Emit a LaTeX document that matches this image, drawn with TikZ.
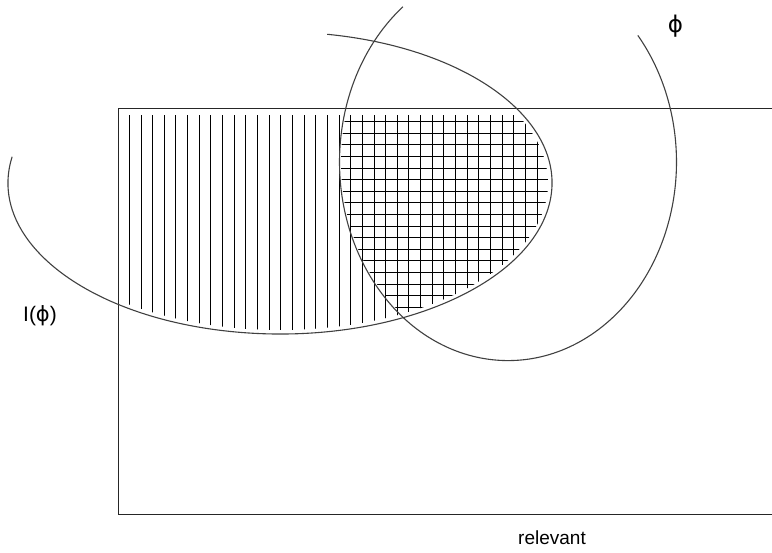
\documentclass[tikz,border=0pt]{standalone}
\usepackage{fontspec}
\setmainfont{Liberation Sans}
\newfontfamily\djv{DejaVu Sans}
\begin{document}
\begin{tikzpicture}[x=1pt,y=1pt,
  curve/.style={draw=black!75,line width=1.1pt},
  frame/.style={draw=black!85,line width=1pt},
  hatch/.style={draw=black,line width=0.9pt},
  lbl/.style={inner sep=0pt,font=\fontsize{21}{24}\selectfont}]
\useasboundingbox (0,0) rectangle (772,-553);
\coordinate (E) at (280,-183);
\coordinate (C) at (508,-162);
% vertical hatching: rectangle ∩ ellipse
\begin{scope}
  \clip (118,-116) rectangle (772,-515);
  \clip (E) ellipse[x radius=268pt, y radius=147pt];
  \foreach \k in {0,...,37} {
    \draw[hatch] (129.3+11.65*\k,-100) -- (129.3+11.65*\k,-400);
  }
  % horizontal hatching: also inside circle
  \clip (C) ellipse[x radius=167pt, y radius=197pt];
  \foreach \k in {0,...,17} {
    \draw[hatch] (300,-121.7-11.6*\k) -- (600,-121.7-11.6*\k);
  }
\end{scope}
% frame (open on the right)
\coordinate (R1) at (772,-109);
\coordinate (R2) at (118,-109);
\coordinate (R3) at (118,-515);
\coordinate (R4) at (772,-515);
\draw[frame] (R1) -- (R2) -- (R3) -- (R4);
% ellipse arc I(phi)
\draw[curve] ([shift={(170:272pt and 151pt)}]E) arc[start angle=170, end angle=440, x radius=272pt, y radius=151pt];
% ellipse arc phi
\draw[curve] ([shift={(128.6:168.5pt and 198.6pt)}]C) arc[start angle=128.6, end angle=399.6, x radius=168.5pt, y radius=198.6pt];
% labels
\node[lbl,font=\fontsize{23}{26}\selectfont] (phi) at (675.5,-26) {\djv ϕ};
\node[lbl] (Iphi) at (40,-316) {I({\djv ϕ})};
\node[lbl,font=\fontsize{19}{22}\selectfont] (rel) at (552,-538) {relevant};
\end{tikzpicture}
\end{document}
